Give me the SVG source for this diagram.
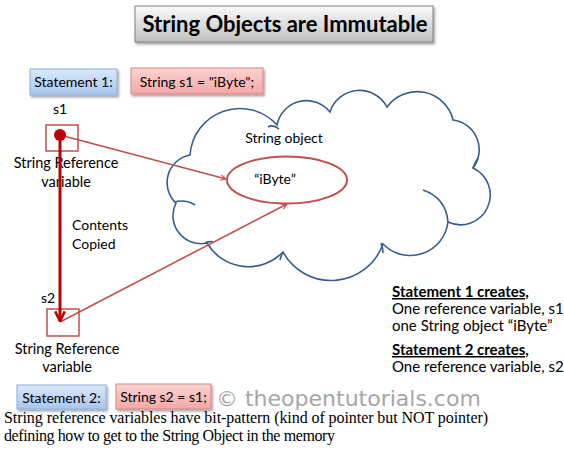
<svg xmlns="http://www.w3.org/2000/svg" width="564" height="461" viewBox="0 0 564 461">
<style>
.t{font-family:Lato,"Open Sans",sans-serif;fill:#000}
.c{text-anchor:middle}
.thin{stroke:#c0504d;stroke-width:1.6;fill:none}
.box{fill:none;stroke:#c0504d;stroke-width:1.5}
.cloud{fill:#fff;stroke:#385d8a;stroke-width:1.6}
.inner{fill:none;stroke:#385d8a;stroke-width:1.6}
.serif{font-family:'Liberation Serif',serif;font-size:16px;fill:#000}
</style>
<defs>
<linearGradient id="gGray" x1="0" y1="0" x2="0" y2="1"><stop offset="0" stop-color="#fbfbfb"/><stop offset="1" stop-color="#bfbfbf"/></linearGradient>
<linearGradient id="gBlue" x1="0" y1="0" x2="0" y2="1"><stop offset="0" stop-color="#dce8f8"/><stop offset="1" stop-color="#a8c6ee"/></linearGradient>
<linearGradient id="gPink" x1="0" y1="0" x2="0" y2="1"><stop offset="0" stop-color="#fbd3d2"/><stop offset="1" stop-color="#f2a8a6"/></linearGradient>
<filter id="sh" x="-10%" y="-20%" width="120%" height="150%"><feDropShadow dx="1.5" dy="2" stdDeviation="1.2" flood-color="#000" flood-opacity="0.35"/></filter>
<marker id="aThin" viewBox="0 0 10 10" refX="9" refY="5" markerWidth="7" markerHeight="7" orient="auto" markerUnits="userSpaceOnUse"><path d="M1,1 L9,5 L1,9" fill="none" stroke="#c0504d" stroke-width="1.6"/></marker>
<marker id="aThick" viewBox="0 0 10 10" refX="9" refY="5" markerWidth="12" markerHeight="12" orient="auto" markerUnits="userSpaceOnUse"><path d="M1,1 L9,5 L1,9" fill="none" stroke="#c00000" stroke-width="2.2"/></marker>
</defs>
<rect width="564" height="461" fill="#fff"/>

<g id="title">
<rect x="135" y="6" width="298" height="36" fill="url(#gGray)" stroke="#7f7f7f" stroke-width="1" filter="url(#sh)"/>
<text x="285" y="32" class="t c" font-size="22" font-weight="bold">String Objects are Immutable</text>
</g>

<g id="statement1">
<rect x="30" y="69" width="87" height="26" fill="url(#gBlue)" stroke="#8aaedc" filter="url(#sh)"/>
<text x="73.5" y="87" class="t c" font-size="14">Statement 1:</text>
</g>
<g id="code1">
<rect x="131" y="68" width="132" height="26" fill="url(#gPink)" stroke="#d98482" filter="url(#sh)"/>
<text x="197" y="86.5" class="t c" font-size="14">String s1 = "iByte";</text>
</g>

<g id="cloud">
<path class="cloud" d="M207,243 A28,28 0 0 1 176,203 A28,28 0 0 1 190,155 A50,50 0 0 1 277,125 A30,30 0 0 1 330,112 A31,31 0 0 1 387,107 A37,37 0 0 1 453,120 A30,30 0 0 1 473,168 A29,29 0 0 1 448,222 A38,38 0 0 1 383,244 A55,55 0 0 1 283,252 A48,48 0 0 1 207,243 Z"/>
<path class="inner" d="M174,202 Q186,199 195,205"/>
<path class="inner" d="M423,190 Q446,198 448,222"/>
<path class="inner" d="M268,127 Q273,124 279,129"/>
<path class="inner" d="M473,168 Q475,162 478,158"/>
<path class="inner" d="M381,243 Q383,248 383,253"/>
<path class="inner" d="M283,252 Q281,256 280,260"/>
<path class="inner" d="M205,243 Q209,241 213,242"/>
<text x="284" y="143" class="t c" font-size="14">String object</text>
</g>

<g id="stringObject">
<ellipse cx="287" cy="180" rx="60" ry="23.5" fill="#fff" stroke="#c0504d" stroke-width="2"/>
<text x="275" y="184" class="t c" font-size="14">“iByte”</text>
</g>

<g id="s1">
<text x="60" y="114" class="t c" font-size="14">s1</text>
<rect class="box" x="46" y="125" width="32" height="26"/>
<text x="66" y="168" class="t c" font-size="14.5">String Reference</text>
<text x="66" y="187" class="t c" font-size="14.5">variable</text>
</g>

<g id="s2">
<text x="48" y="303" class="t c" font-size="14">s2</text>
<rect class="box" x="47" y="309" width="32" height="27"/>
<text x="67" y="354" class="t c" font-size="14.5">String Reference</text>
<text x="67" y="372" class="t c" font-size="14.5">variable</text>
</g>

<g id="connectors">
<line class="thin" x1="60" y1="135" x2="226" y2="179" marker-end="url(#aThin)"/>
<line class="thin" x1="60" y1="322" x2="287" y2="204" marker-end="url(#aThin)"/>
<line x1="60" y1="135" x2="60" y2="321" stroke="#c00000" stroke-width="3" marker-end="url(#aThick)"/>
<circle cx="60" cy="135" r="6" fill="#c00000"/>
<text x="72" y="230" class="t" font-size="14">Contents</text>
<text x="72" y="249" class="t" font-size="14">Copied</text>
</g>

<g id="notes">
<text x="392" y="297" class="t" font-size="15" font-weight="bold" text-decoration="underline">Statement 1 creates,</text>
<text x="392" y="314" class="t" font-size="15">One reference variable, s1</text>
<text x="392" y="331" class="t" font-size="15">one String object “iByte”</text>
<text x="392" y="355" class="t" font-size="15" font-weight="bold" text-decoration="underline">Statement 2 creates,</text>
<text x="392" y="372" class="t" font-size="15">One reference variable, s2</text>
</g>

<g id="statement2">
<rect x="17" y="385" width="89" height="24" fill="url(#gBlue)" stroke="#8aaedc" filter="url(#sh)"/>
<text x="61.5" y="402.5" class="t c" font-size="14">Statement 2:</text>
</g>
<g id="code2">
<rect x="116" y="384" width="95" height="25" fill="url(#gPink)" stroke="#d98482" filter="url(#sh)"/>
<text x="163.5" y="402" class="t c" font-size="14">String s2 = s1;</text>
</g>

<text x="216" y="406" font-family="'DejaVu Sans',sans-serif" font-size="22" fill="#a6a6a6">© theopentutorials.com</text>

<text x="4" y="423" class="serif" textLength="484" lengthAdjust="spacing">String reference variables have bit-pattern (kind of pointer but NOT pointer)</text>
<text x="4" y="441" class="serif" textLength="331" lengthAdjust="spacing">defining how to get to the String Object in the memory</text>
</svg>
